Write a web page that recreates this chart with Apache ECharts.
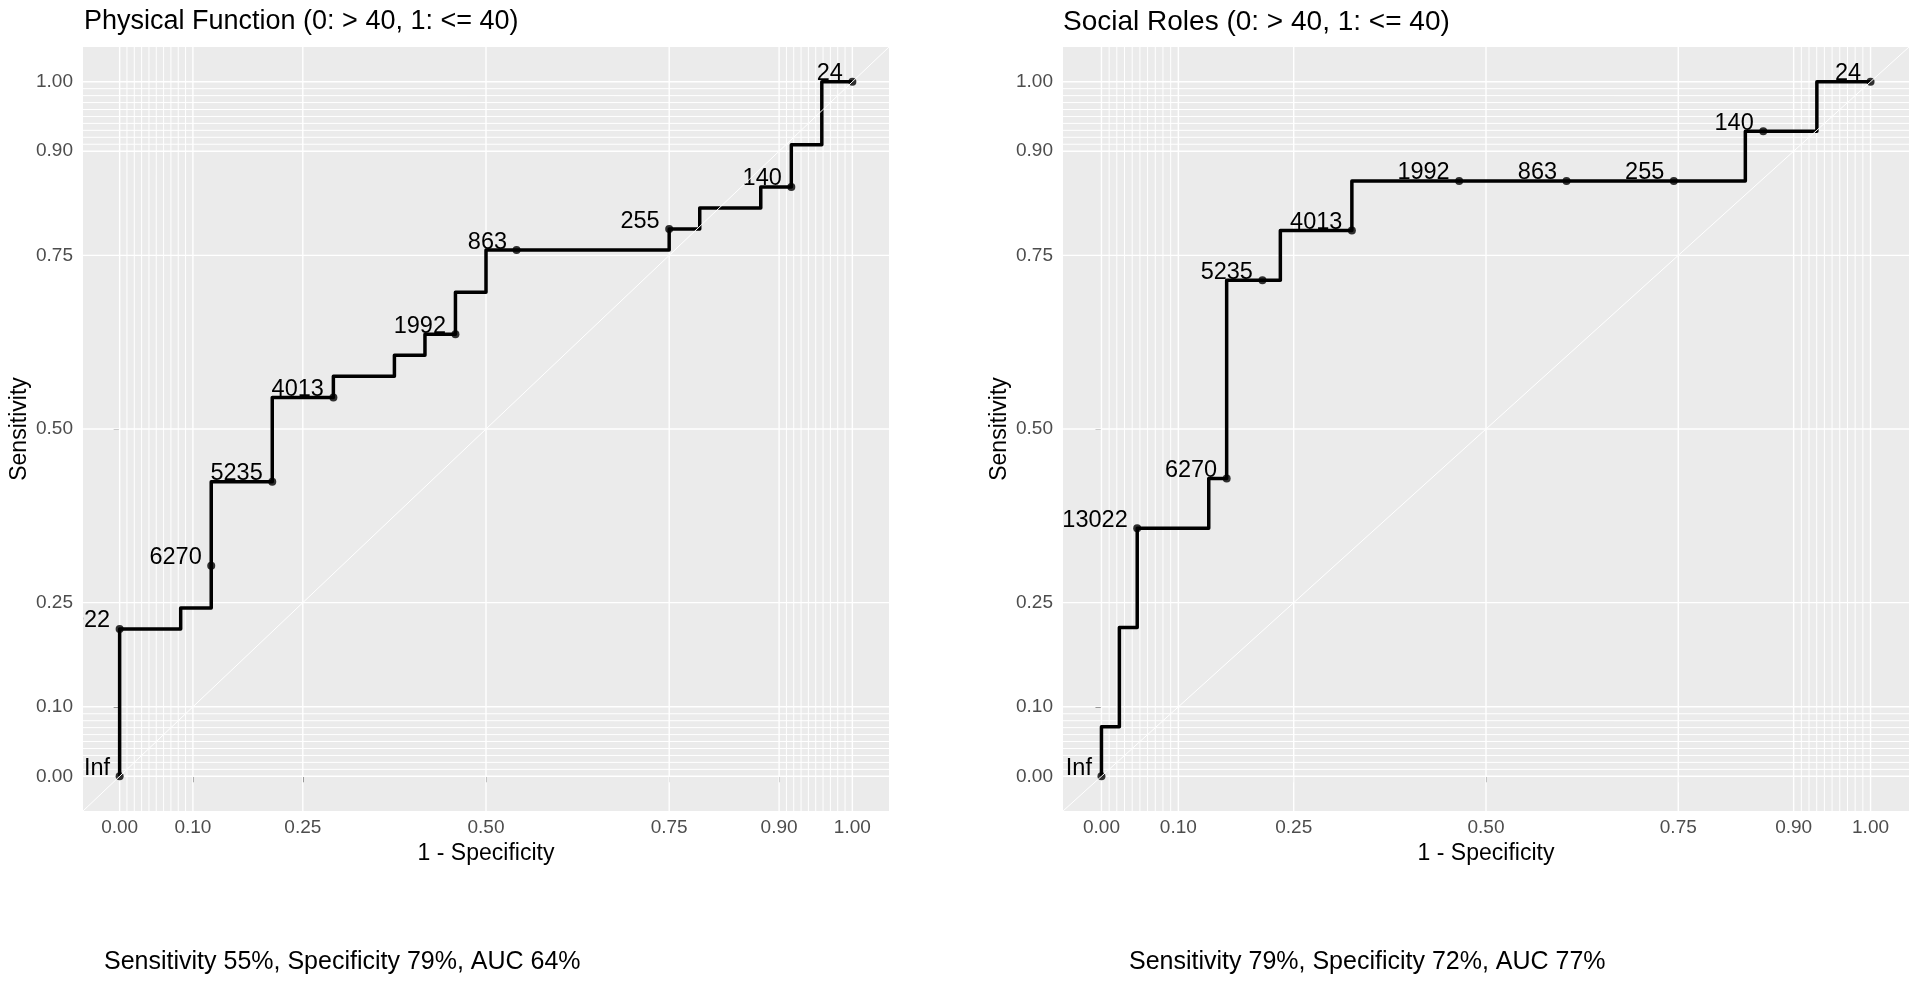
<!DOCTYPE html>
<html><head><meta charset="utf-8">
<script src="https://cdn.jsdelivr.net/npm/echarts@6/dist/echarts.min.js"></script>
<style>html,body{margin:0;padding:0;background:#fff}#chart{width:1920px;height:983px}</style>
</head><body><div id="chart"></div>
<script>
const FONT = '"Liberation Sans", Arial, Helvetica, sans-serif';

// axis breaks (plotROC style)
const majorBreaks = [0, 0.1, 0.25, 0.5, 0.75, 0.9, 1];
const minorBreaks = [0.01, 0.02, 0.03, 0.04, 0.05, 0.06, 0.07, 0.08, 0.09,
                     0.91, 0.92, 0.93, 0.94, 0.95, 0.96, 0.97, 0.98, 0.99];
const axisMin = -0.05, axisMax = 1.05;

// Panel 1: Physical Function – ROC path (1 - specificity, sensitivity)
const pfFpr = [0, 0, 0.0833, 0.0833, 0.125, 0.125, 0.2083, 0.2083, 0.2917, 0.2917, 0.375, 0.375,
               0.4167, 0.4167, 0.4583, 0.4583, 0.5, 0.5, 0.75, 0.75, 0.7917, 0.7917, 0.875, 0.875,
               0.9167, 0.9167, 0.9583, 0.9583, 1];
const pfTpr = [0, 0.2121, 0.2121, 0.2424, 0.2424, 0.4242, 0.4242, 0.5455, 0.5455, 0.5758, 0.5758, 0.6061,
               0.6061, 0.6364, 0.6364, 0.6970, 0.6970, 0.7576, 0.7576, 0.7879, 0.7879, 0.8182, 0.8182, 0.8485,
               0.8485, 0.9091, 0.9091, 1, 1];
const pfCutLabels = ['Inf', '13022', '6270', '5235', '4013', '1992', '863', '255', '140', '24'];
const pfCutFpr = [0, 0, 0.125, 0.2083, 0.2917, 0.4583, 0.5417, 0.75, 0.9167, 1];
const pfCutTpr = [0, 0.2121, 0.3030, 0.4242, 0.5455, 0.6364, 0.7576, 0.7879, 0.8485, 1];

// Panel 2: Social Roles
const srFpr = [0, 0, 0.0233, 0.0233, 0.0465, 0.0465, 0.1395, 0.1395, 0.1628, 0.1628, 0.2326, 0.2326,
               0.3256, 0.3256, 0.8372, 0.8372, 0.9302, 0.9302, 1];
const srTpr = [0, 0.0714, 0.0714, 0.2143, 0.2143, 0.3571, 0.3571, 0.4286, 0.4286, 0.7143, 0.7143, 0.7857,
               0.7857, 0.8571, 0.8571, 0.9286, 0.9286, 1, 1];
const srCutLabels = ['Inf', '13022', '6270', '5235', '4013', '1992', '863', '255', '140', '24'];
const srCutFpr = [0, 0.0465, 0.1628, 0.2093, 0.3256, 0.4651, 0.6047, 0.7442, 0.8605, 1];
const srCutTpr = [0, 0.3571, 0.4286, 0.7143, 0.7857, 0.8571, 0.8571, 0.8571, 0.9286, 1];

const panelTitles = ['Physical Function (0: > 40, 1: <= 40)', 'Social Roles (0: > 40, 1: <= 40)'];
const captions = ['Sensitivity 55%, Specificity 79%, AUC 64%', 'Sensitivity 79%, Specificity 72%, AUC 77%'];

const panels = [
  {fpr: pfFpr, tpr: pfTpr, labels: pfCutLabels, cx: pfCutFpr, cy: pfCutTpr,
   grid: {left: 83, top: 47, width: 806, height: 764}, titleLeft: 84, titleSize: 27, captionLeft: 104},
  {fpr: srFpr, tpr: srTpr, labels: srCutLabels, cx: srCutFpr, cy: srCutTpr,
   grid: {left: 1063, top: 47, width: 846, height: 764}, titleLeft: 1063, titleSize: 28, captionLeft: 1129}
];

const zip = (a, b) => a.map((v, i) => [v, b[i]]);

function gridLines(idx, values, vertical, width) {
  return {
    type: 'custom', xAxisIndex: idx, yAxisIndex: idx, z: 1, silent: true, clip: true,
    data: values.map(v => [v, v]),
    renderItem: (params, api) => {
      const v = api.value(0);
      const a = vertical ? api.coord([v, axisMin]) : api.coord([axisMin, v]);
      const b = vertical ? api.coord([v, axisMax]) : api.coord([axisMax, v]);
      return {type: 'line', shape: {x1: a[0], y1: a[1], x2: b[0], y2: b[1]},
              style: {stroke: '#ffffff', lineWidth: width}};
    }
  };
}

const grids = [], xAxes = [], yAxes = [], series = [], titles = [];
panels.forEach((p, i) => {
  grids.push(Object.assign({show: true, backgroundColor: '#EBEBEB', borderWidth: 0}, p.grid));
  const common = {
    gridIndex: i, type: 'value', min: axisMin, max: axisMax,
    axisLine: {show: false}, splitLine: {show: false},
    axisTick: {show: true, customValues: majorBreaks, length: 6, lineStyle: {color: '#333333', width: 1}},
    axisLabel: {customValues: majorBreaks, formatter: v => v.toFixed(2), fontSize: 19,
                color: '#4D4D4D', fontFamily: FONT},
    nameLocation: 'middle', nameTextStyle: {fontSize: 23, color: '#000', fontFamily: FONT}
  };
  xAxes.push(Object.assign({}, common, {name: '1 - Specificity', nameGap: 30,
    axisLabel: Object.assign({}, common.axisLabel, {margin: 7})}));
  yAxes.push(Object.assign({}, common, {name: 'Sensitivity', nameGap: 52, nameRotate: 90,
    axisLabel: Object.assign({}, common.axisLabel, {margin: 10})}));

  series.push(gridLines(i, minorBreaks, true, 1));
  series.push(gridLines(i, minorBreaks, false, 1));
  series.push(gridLines(i, majorBreaks, true, 1.4));
  series.push(gridLines(i, majorBreaks, false, 1.4));

  series.push({type: 'line', xAxisIndex: i, yAxisIndex: i, z: 3, silent: true,
    showSymbol: false, data: zip(p.fpr, p.tpr),
    lineStyle: {color: '#000', width: 3.5, join: 'round'}});

  series.push({type: 'scatter', xAxisIndex: i, yAxisIndex: i, z: 5, silent: true,
    symbolSize: 8, itemStyle: {color: '#000'}, data: zip(p.cx, p.cy)});

  series.push({type: 'custom', xAxisIndex: i, yAxisIndex: i, z: 4, silent: true, clip: true,
    data: zip(p.cx, p.cy),
    renderItem: (params, api) => {
      const c = api.coord([api.value(0), api.value(1)]);
      return {type: 'text', x: c[0] - 9.5, y: c[1] + 4,
        style: {text: p.labels[params.dataIndex], align: 'right', verticalAlign: 'bottom',
                fontSize: 23.5, fontFamily: FONT, fill: '#000'}};
    }});

  series.push({type: 'line', xAxisIndex: i, yAxisIndex: i, z: 10, silent: true,
    showSymbol: false, data: [[axisMin, axisMin], [axisMax, axisMax]],
    lineStyle: {color: '#ffffff', width: 1}});

  titles.push({text: panelTitles[i], left: p.titleLeft, top: 8, padding: 0,
    textStyle: {fontSize: p.titleSize, fontWeight: 'normal', color: '#000', fontFamily: FONT}});
  titles.push({text: captions[i], left: p.captionLeft, top: 950, padding: 0,
    textStyle: {fontSize: 25, fontWeight: 'normal', color: '#000', fontFamily: FONT}});
});

const chart = echarts.init(document.getElementById('chart'), null, {renderer: 'canvas'});
chart.setOption({
  animation: false,
  backgroundColor: '#ffffff',
  title: titles,
  grid: grids,
  xAxis: xAxes,
  yAxis: yAxes,
  series: series
});
</script>
</body></html>
